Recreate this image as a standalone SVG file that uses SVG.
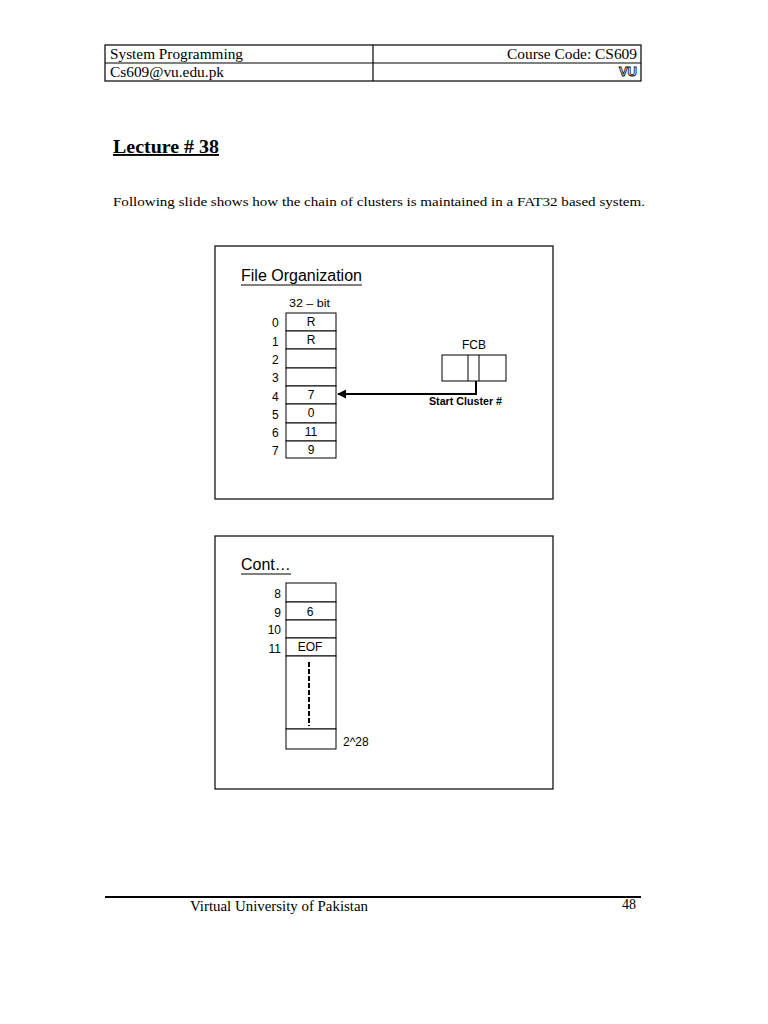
<svg xmlns="http://www.w3.org/2000/svg" width="768" height="1024" viewBox="0 0 768 1024">
<style>
.serif{font-family:"Liberation Serif","Times New Roman",serif;fill:#000}
.sans{font-family:"Liberation Sans",Arial,sans-serif;fill:#000}
.cell{fill:#fff;stroke:#000;stroke-width:1}
.lbl{font-family:"Liberation Sans",Arial,sans-serif;font-size:12px;fill:#000}
.val{font-family:"Liberation Sans",Arial,sans-serif;font-size:12px;fill:#000;text-anchor:middle}
</style>
<defs>
<marker id="ah" viewBox="0 0 10 10" refX="9" refY="5" markerWidth="4.5" markerHeight="4.5" orient="auto">
<path d="M0,0 L10,5 L0,10 z" fill="#000"/>
</marker>
</defs>
<rect width="768" height="1024" fill="#fff"/>

<g id="header">
<rect x="105" y="45" width="536" height="36" fill="none" stroke="#000" stroke-width="1.2"/>
<line x1="105" y1="63" x2="641" y2="63" stroke="#000" stroke-width="1.2"/>
<line x1="373" y1="45" x2="373" y2="81" stroke="#000" stroke-width="1.2"/>
<text class="serif" x="110" y="59" font-size="14" textLength="133" lengthAdjust="spacingAndGlyphs">System Programming</text>
<text class="serif" x="507" y="59" font-size="14" textLength="130" lengthAdjust="spacingAndGlyphs">Course Code: CS609</text>
<text class="serif" x="110" y="77" font-size="14" textLength="114" lengthAdjust="spacingAndGlyphs">Cs609@vu.edu.pk</text>
<text x="637" y="76" font-size="13" font-weight="bold" text-anchor="end" font-family="Liberation Sans,Arial,sans-serif" fill="#fff" stroke="#000" stroke-width="0.8">VU</text>
</g>

<g id="title">
<text class="serif" x="113" y="153" font-size="19" font-weight="bold" text-decoration="underline" textLength="106" lengthAdjust="spacingAndGlyphs">Lecture # 38</text>
<text class="serif" x="113" y="206" font-size="13.5" textLength="532" lengthAdjust="spacingAndGlyphs">Following slide shows how the chain of clusters is maintained in a FAT32 based system.</text>
</g>

<g id="slide1">
<rect x="215" y="246" width="338" height="253" fill="#fff" stroke="#000" stroke-width="1.2"/>
<text class="sans" x="241" y="281" font-size="16">File Organization</text>
<line x1="241" y1="285" x2="362" y2="285" stroke="#000" stroke-width="1"/>
<text class="sans" x="289" y="307" font-size="11" textLength="41" lengthAdjust="spacingAndGlyphs">32 – bit</text>
</g>

<g id="fat-table">
<rect class="cell" x="286" y="313" width="50" height="18"/>
<rect class="cell" x="286" y="331" width="50" height="18"/>
<rect class="cell" x="286" y="349" width="50" height="19"/>
<rect class="cell" x="286" y="368" width="50" height="18"/>
<rect class="cell" x="286" y="386" width="50" height="18"/>
<rect class="cell" x="286" y="404" width="50" height="19"/>
<rect class="cell" x="286" y="423" width="50" height="18"/>
<rect class="cell" x="286" y="441" width="50" height="17"/>
<text class="lbl" x="272" y="327">0</text>
<text class="lbl" x="272" y="346">1</text>
<text class="lbl" x="272" y="364">2</text>
<text class="lbl" x="272" y="382">3</text>
<text class="lbl" x="272" y="401">4</text>
<text class="lbl" x="272" y="419">5</text>
<text class="lbl" x="272" y="437">6</text>
<text class="lbl" x="272" y="455">7</text>
<text class="val" x="311" y="326">R</text>
<text class="val" x="311" y="344">R</text>
<text class="val" x="311" y="399">7</text>
<text class="val" x="311" y="417">0</text>
<text class="val" x="311" y="436">11</text>
<text class="val" x="311" y="454">9</text>
</g>

<g id="fcb">
<text class="sans" x="474" y="349" font-size="12" text-anchor="middle">FCB</text>
<rect class="cell" x="442" y="355" width="64" height="26"/>
<line x1="468" y1="355" x2="468" y2="381" stroke="#000"/>
<line x1="479" y1="355" x2="479" y2="381" stroke="#000"/>
<text class="sans" x="429" y="405" font-size="10" font-weight="bold" textLength="73" lengthAdjust="spacingAndGlyphs">Start Cluster #</text>
</g>

<g id="connectors">
<polyline points="476,381 476,394 338,394" fill="none" stroke="#000" stroke-width="2" marker-end="url(#ah)"/>
</g>

<g id="slide2">
<rect x="215" y="536" width="338" height="253" fill="#fff" stroke="#000" stroke-width="1.2"/>
<text class="sans" x="241" y="570" font-size="16">Cont…</text>
<line x1="241" y1="574" x2="291" y2="574" stroke="#000" stroke-width="1"/>
</g>

<g id="fat-table-2">
<rect class="cell" x="286" y="583" width="50" height="19"/>
<rect class="cell" x="286" y="602" width="50" height="18"/>
<rect class="cell" x="286" y="620" width="50" height="18"/>
<rect class="cell" x="286" y="638" width="50" height="18"/>
<rect class="cell" x="286" y="656" width="50" height="73"/>
<rect class="cell" x="286" y="729" width="50" height="20"/>
<text class="lbl" x="281" y="598" text-anchor="end">8</text>
<text class="lbl" x="281" y="617" text-anchor="end">9</text>
<text class="lbl" x="281" y="634" text-anchor="end">10</text>
<text class="lbl" x="281" y="653" text-anchor="end">11</text>
<text class="val" x="310" y="616">6</text>
<text class="val" x="310" y="651">EOF</text>
<line x1="309" y1="662" x2="309" y2="726" stroke="#000" stroke-width="2" stroke-dasharray="5,2"/>
<text class="sans" x="343" y="746" font-size="12">2^28</text>
</g>

<g id="footer">
<line x1="105" y1="897" x2="641" y2="897" stroke="#000" stroke-width="2"/>
<text class="serif" x="190" y="911" font-size="14" textLength="178" lengthAdjust="spacingAndGlyphs">Virtual University of Pakistan</text>
<text class="serif" x="636" y="909" font-size="14" text-anchor="end">48</text>
</g>
</svg>
